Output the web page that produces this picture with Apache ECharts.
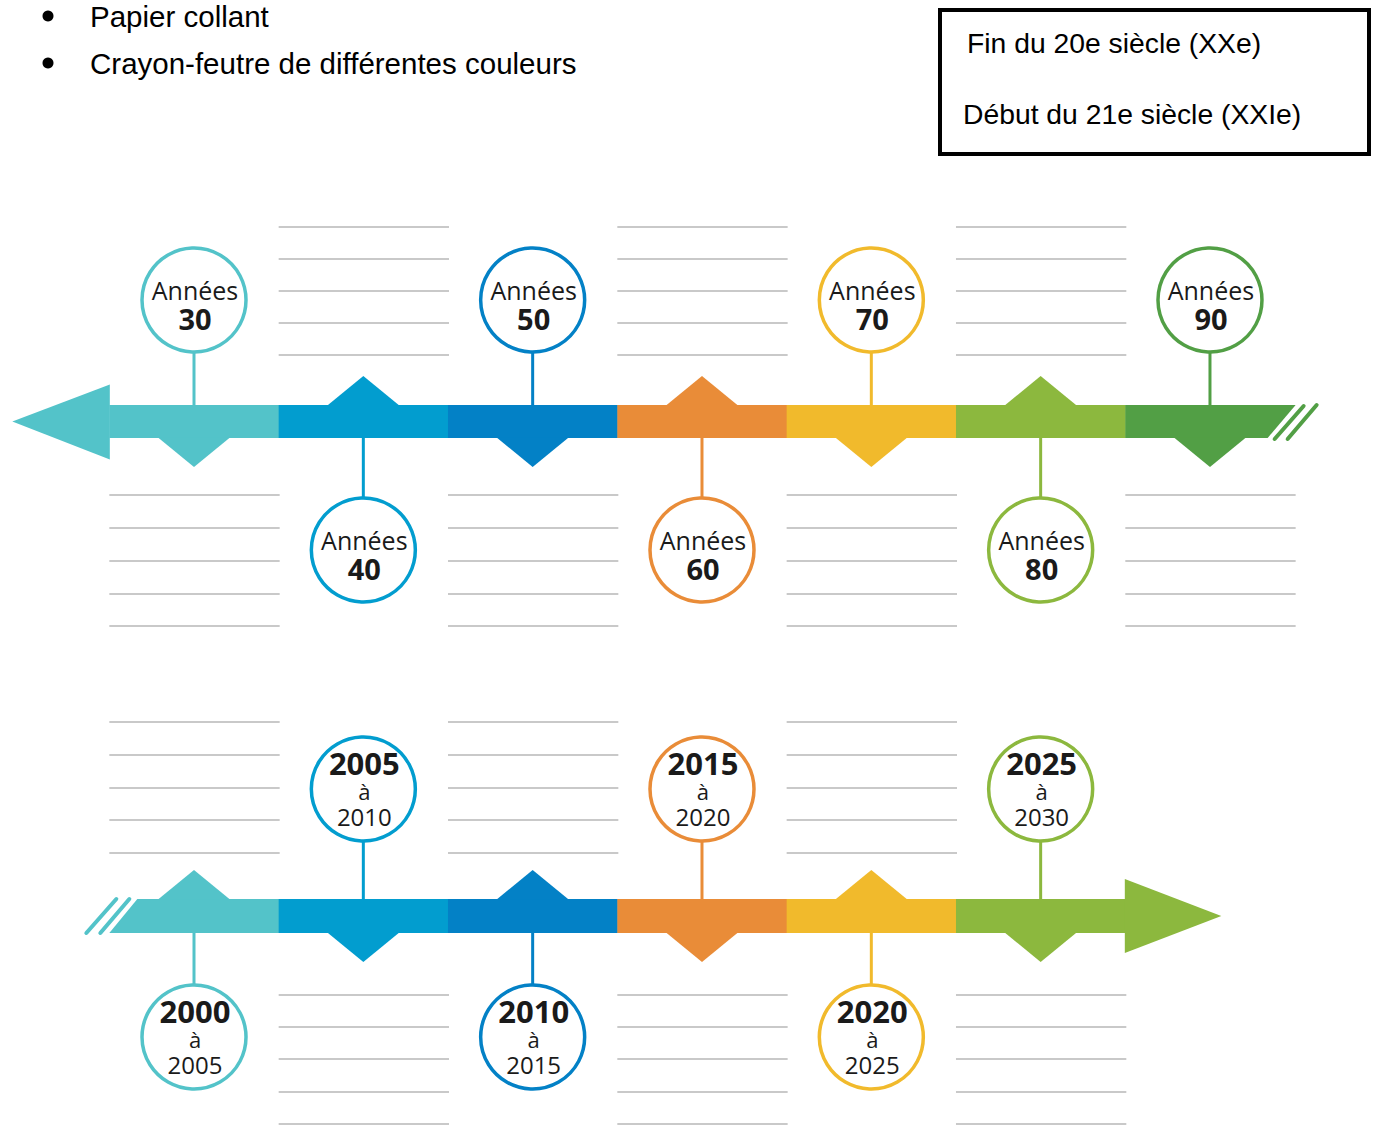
<!DOCTYPE html>
<html>
<head>
<meta charset="utf-8">
<script src="https://cdn.jsdelivr.net/npm/echarts@6/dist/echarts.min.js"></script>
<style>html,body{margin:0;padding:0;background:#fff}#c{width:1376px;height:1125px}</style>
</head>
<body>
<div id="c"></div>
<script>
// ---- data ----
const decades = ['30', '40', '50', '60', '70', '80', '90'];
const periodStart = ['2000', '2005', '2010', '2015', '2020', '2025'];
const periodEnd = ['2005', '2010', '2015', '2020', '2025', '2030'];
const decadeWord = 'Années';
const joinWord = 'à';
const bulletItems = ['Papier collant', 'Crayon-feutre de différentes couleurs'];
const legendLines = ['Fin du 20e siècle (XXe)', 'Début du 21e siècle (XXIe)'];
const palette = ['#53C3C9', '#029DCF', '#0381C6', '#E98C38', '#F1BA2C', '#8CB83E', '#529F45'];

// ---- layout ----
const W = 1376, H = 1125;
const STEP = 169.33, C0 = 194;
const LINE_GRAY = '#C9C9C9';
const FONT = '"Open Sans", sans-serif';
const HFONT = '"Liberation Sans", Arial, sans-serif';

const rows = [
  { // top timeline, 20th century
    barTop: 405, barBot: 438,
    circleUp: i => i % 2 === 0,
    circleUpY: 300, circleDownY: 550,
    linesUp: [227, 259, 291, 323, 355], linesDown: [495, 528, 561, 594, 626],
    startArrow: true, endSlash: true
  },
  { // bottom timeline, 21st century
    barTop: 899, barBot: 933,
    circleUp: i => i % 2 === 1,
    circleUpY: 789, circleDownY: 1037,
    linesUp: [722, 755, 788, 820, 853], linesDown: [995, 1027, 1059, 1092, 1124],
    startSlash: true, endArrow: true
  }
];
const R = 52;

function makeRender(row, n, labelFn) {
  return function (params, api) {
    const i = api.value(0);
    const cx = api.coord([i, 0])[0];
    const w = api.size([1, 0])[0];
    const x0 = cx - w / 2, x1 = cx + w / 2;
    const top = api.coord([0, row.barTop])[1];
    const bot = api.coord([0, row.barBot])[1];
    const mid = (top + bot) / 2;
    const color = palette[i];
    const up = row.circleUp(i);
    const ch = [];
    const fill = { fill: color };
    // bar segment
    if (i === 0 && row.startSlash) {
      ch.push({ type: 'polygon', shape: { points: [[x0 + 28, top], [x1 + 0.5, top], [x1 + 0.5, bot], [x0, bot]] }, style: fill });
      ch.push({ type: 'line', shape: { x1: x0 - 23, y1: bot, x2: x0 + 7, y2: top }, style: { stroke: color, lineWidth: 4, lineCap: 'round' } });
      ch.push({ type: 'line', shape: { x1: x0 - 9, y1: bot, x2: x0 + 20, y2: top }, style: { stroke: color, lineWidth: 4, lineCap: 'round' } });
    } else if (i === n - 1 && row.endSlash) {
      ch.push({ type: 'polygon', shape: { points: [[x0, top], [x1 + 1, top], [x1 - 27, bot], [x0, bot]] }, style: fill });
      ch.push({ type: 'line', shape: { x1: x1 - 20, y1: bot + 1, x2: x1 + 9, y2: top + 1 }, style: { stroke: color, lineWidth: 4, lineCap: 'round' } });
      ch.push({ type: 'line', shape: { x1: x1 - 7, y1: bot + 1, x2: x1 + 22, y2: top }, style: { stroke: color, lineWidth: 4, lineCap: 'round' } });
    } else {
      ch.push({ type: 'rect', shape: { x: x0, y: top, width: w + 0.5, height: bot - top }, style: fill });
    }
    if (i === 0 && row.startArrow) {
      ch.push({ type: 'polygon', shape: { points: [[x0 + 0.5, mid - 37], [x0 - 97, mid], [x0 + 0.5, mid + 38]] }, style: fill });
    }
    if (i === n - 1 && row.endArrow) {
      ch.push({ type: 'polygon', shape: { points: [[x1 - 0.5, mid - 37], [x1 + 96, mid], [x1 - 0.5, mid + 37]] }, style: fill });
    }
    // triangle (opposite side of circle)
    if (up) {
      ch.push({ type: 'polygon', shape: { points: [[cx - 36, bot - 0.5], [cx, bot + 29], [cx + 36, bot - 0.5]] }, style: fill });
    } else {
      ch.push({ type: 'polygon', shape: { points: [[cx - 36, top + 0.5], [cx, top - 29], [cx + 36, top + 0.5]] }, style: fill });
    }
    // gray writing lines on triangle side
    const ly = up ? row.linesDown : row.linesUp;
    ly.forEach(y => {
      ch.push({ type: 'line', shape: { x1: x0, y1: y, x2: x1 + 1, y2: y }, style: { stroke: LINE_GRAY, lineWidth: 2 } });
    });
    // stem + circle
    const cy = up ? row.circleUpY : row.circleDownY;
    if (up) {
      ch.push({ type: 'line', shape: { x1: cx, y1: cy + R, x2: cx, y2: top }, style: { stroke: color, lineWidth: 3 } });
    } else {
      ch.push({ type: 'line', shape: { x1: cx, y1: bot, x2: cx, y2: cy - R }, style: { stroke: color, lineWidth: 3 } });
    }
    ch.push({ type: 'circle', shape: { cx: cx, cy: cy, r: R }, style: { fill: '#fff', stroke: color, lineWidth: 3.5 } });
    const lab = labelFn(i);
    ch.push({ type: 'text', style: { text: lab.text, rich: lab.rich, x: cx + 1, y: cy + lab.dy, align: 'center', verticalAlign: 'middle', fill: '#1a1a1a' } });
    return { type: 'group', children: ch };
  };
}

const decadeLabels = i => ({
  text: '{w|' + decadeWord + '}\n{n|' + decades[i] + '}',
  dy: 4,
  rich: {
    w: { font: '25px ' + FONT, lineHeight: 28, align: 'center', fill: '#1a1a1a' },
    n: { font: 'bold 29px ' + FONT, lineHeight: 28, align: 'center', fill: '#1a1a1a' }
  }
});
const periodLabels = i => ({
  text: '{a|' + periodStart[i] + '}\n{b|' + joinWord + '}\n{c|' + periodEnd[i] + '}',
  dy: -1,
  rich: {
    a: { font: 'bold 31px ' + FONT, lineHeight: 30, align: 'center', fill: '#1a1a1a' },
    b: { font: '22px ' + FONT, lineHeight: 26, align: 'center', fill: '#1a1a1a' },
    c: { font: '24px ' + FONT, lineHeight: 24, align: 'center', fill: '#1a1a1a' }
  }
});

const chart = echarts.init(document.getElementById('c'), null, { renderer: 'svg', width: W, height: H });

const graphic = [];
bulletItems.forEach((t, k) => {
  const by = [16, 63][k];
  graphic.push({ type: 'circle', shape: { cx: 48, cy: by, r: 5.5 }, style: { fill: '#000' } });
  graphic.push({ type: 'text', style: { text: t, x: 90, y: by, verticalAlign: 'middle', font: '29.5px ' + HFONT, fill: '#000' } });
});
graphic.push({ type: 'rect', shape: { x: 940, y: 10, width: 429, height: 144 }, style: { fill: 'none', stroke: '#000', lineWidth: 4 } });
legendLines.forEach((t, k) => {
  graphic.push({ type: 'text', style: { text: t, x: [967, 963][k], y: [43, 114][k], verticalAlign: 'middle', font: '28.3px ' + HFONT, fill: '#000' } });
});

chart.setOption({
  animation: false,
  grid: { left: 0, right: 0, top: 0, bottom: 0 },
  xAxis: { type: 'value', min: -C0 / STEP, max: (W - C0) / STEP, show: false },
  yAxis: { type: 'value', min: 0, max: H, inverse: true, show: false },
  graphic: graphic,
  series: [
    { type: 'custom', renderItem: makeRender(rows[0], decades.length, decadeLabels), data: decades.map((d, i) => [i]), silent: true, clip: false },
    { type: 'custom', renderItem: makeRender(rows[1], periodStart.length, periodLabels), data: periodStart.map((d, i) => [i]), silent: true, clip: false }
  ]
});
</script>
</body>
</html>
